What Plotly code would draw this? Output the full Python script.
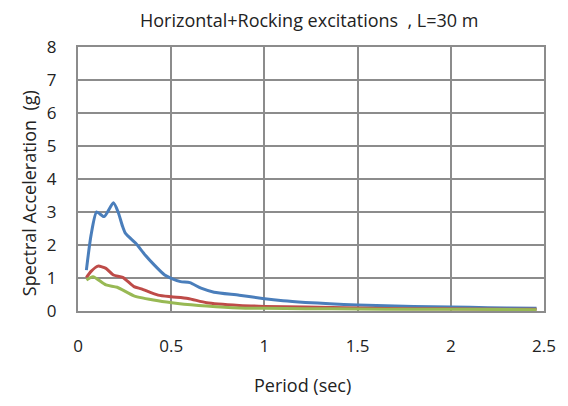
import plotly.graph_objects as go

# Period (sec) and spectral acceleration (g)
period_blue = [0.045, 0.07, 0.10, 0.14, 0.19, 0.215, 0.24, 0.255, 0.31, 0.36, 0.41, 0.465, 0.50, 0.55,
               0.60, 0.66, 0.73, 0.865, 0.99, 1.10, 1.22, 1.35, 1.50, 1.70, 1.90, 2.10, 2.30, 2.46]
sa_blue = [1.24, 2.3, 3.0, 2.86, 3.28, 3.0, 2.55, 2.35, 2.05, 1.7, 1.39, 1.09, 0.99, 0.89,
           0.86, 0.69, 0.57, 0.48, 0.38, 0.31, 0.26, 0.22, 0.18, 0.15, 0.13, 0.11, 0.09, 0.08]

period_red = [0.045, 0.07, 0.107, 0.15, 0.19, 0.24, 0.30, 0.34, 0.43, 0.50, 0.59, 0.69, 0.865,
              1.0, 1.22, 1.5, 1.8, 2.1, 2.46]
sa_red = [1.01, 1.2, 1.36, 1.29, 1.09, 1.02, 0.74, 0.67, 0.48, 0.43, 0.38, 0.25, 0.17,
          0.14, 0.12, 0.09, 0.07, 0.06, 0.05]

period_green = [0.045, 0.08, 0.15, 0.21, 0.30, 0.43, 0.535, 0.69, 0.865, 1.0, 1.22, 1.5, 1.8, 2.1, 2.46]
sa_green = [0.94, 1.04, 0.79, 0.72, 0.46, 0.31, 0.23, 0.15, 0.09, 0.08, 0.07, 0.06, 0.05, 0.05, 0.04]

x_ticks = [0, 0.5, 1, 1.5, 2, 2.5]
x_tick_labels = ["0", "0.5", "1", "1.5", "2", "2.5"]
y_ticks = [0, 1, 2, 3, 4, 5, 6, 7, 8]

TITLE = "Horizontal+Rocking excitations  , L=30 m"
X_TITLE = "Period (sec)"
Y_TITLE = "Spectral Acceleration  (g)"

W, H = 568, 406
ML, MR, MT, MB = 78, 13, 47, 95
PW, PH = W - ML - MR, H - MT - MB
FONT = "Open Sans"
TXT = "#222222"
GRID = "#8C8C8C"


def px_to_paper(px, py):
    return (px - ML) / PW, (H - MB - py) / PH


fig = go.Figure()
fig.add_trace(go.Scatter(x=period_blue, y=sa_blue, mode="lines",
                         line=dict(color="#4A7EBB", width=3, shape="spline", smoothing=0.6)))
fig.add_trace(go.Scatter(x=period_red, y=sa_red, mode="lines",
                         line=dict(color="#BE4B48", width=3, shape="spline", smoothing=0.6)))
fig.add_trace(go.Scatter(x=period_green, y=sa_green, mode="lines",
                         line=dict(color="#98B954", width=3, shape="spline", smoothing=0.6)))

tx, ty = px_to_paper(314, 20)
xx, xy = px_to_paper(308, 385)
yx, yy = px_to_paper(28, 193)
annotations = [
    dict(text=TITLE, x=tx, y=ty, xref="paper", yref="paper",
         xanchor="center", yanchor="middle", showarrow=False,
         font=dict(size=18, family=FONT, color=TXT)),
    dict(text=X_TITLE, x=xx, y=xy, xref="paper", yref="paper",
         xanchor="center", yanchor="middle", showarrow=False,
         font=dict(size=18, family=FONT, color=TXT)),
    dict(text=Y_TITLE, x=yx, y=yy, xref="paper", yref="paper",
         xanchor="center", yanchor="middle", showarrow=False, textangle=-90,
         font=dict(size=18, family=FONT, color=TXT)),
]

fig.update_layout(
    width=W, height=H,
    margin=dict(l=ML, r=MR, t=MT, b=MB),
    paper_bgcolor="white", plot_bgcolor="white",
    showlegend=False,
    font=dict(family=FONT, color=TXT),
    annotations=annotations,
    xaxis=dict(range=[0, 2.5], tickvals=x_ticks, ticktext=x_tick_labels,
               showgrid=True, gridcolor=GRID, gridwidth=2,
               showline=True, linecolor=GRID, linewidth=2, mirror=True,
               zeroline=False, ticks="", ticklen=0, ticklabelstandoff=19,
               tickfont=dict(size=17, family=FONT, color=TXT)),
    yaxis=dict(range=[0, 8], tickvals=y_ticks,
               showgrid=True, gridcolor=GRID, gridwidth=2,
               showline=True, linecolor=GRID, linewidth=2, mirror=True,
               zeroline=False, ticks="", ticklen=0, ticklabelstandoff=16,
               tickfont=dict(size=17, family=FONT, color=TXT)),
)
fig.write_html("out.html")
